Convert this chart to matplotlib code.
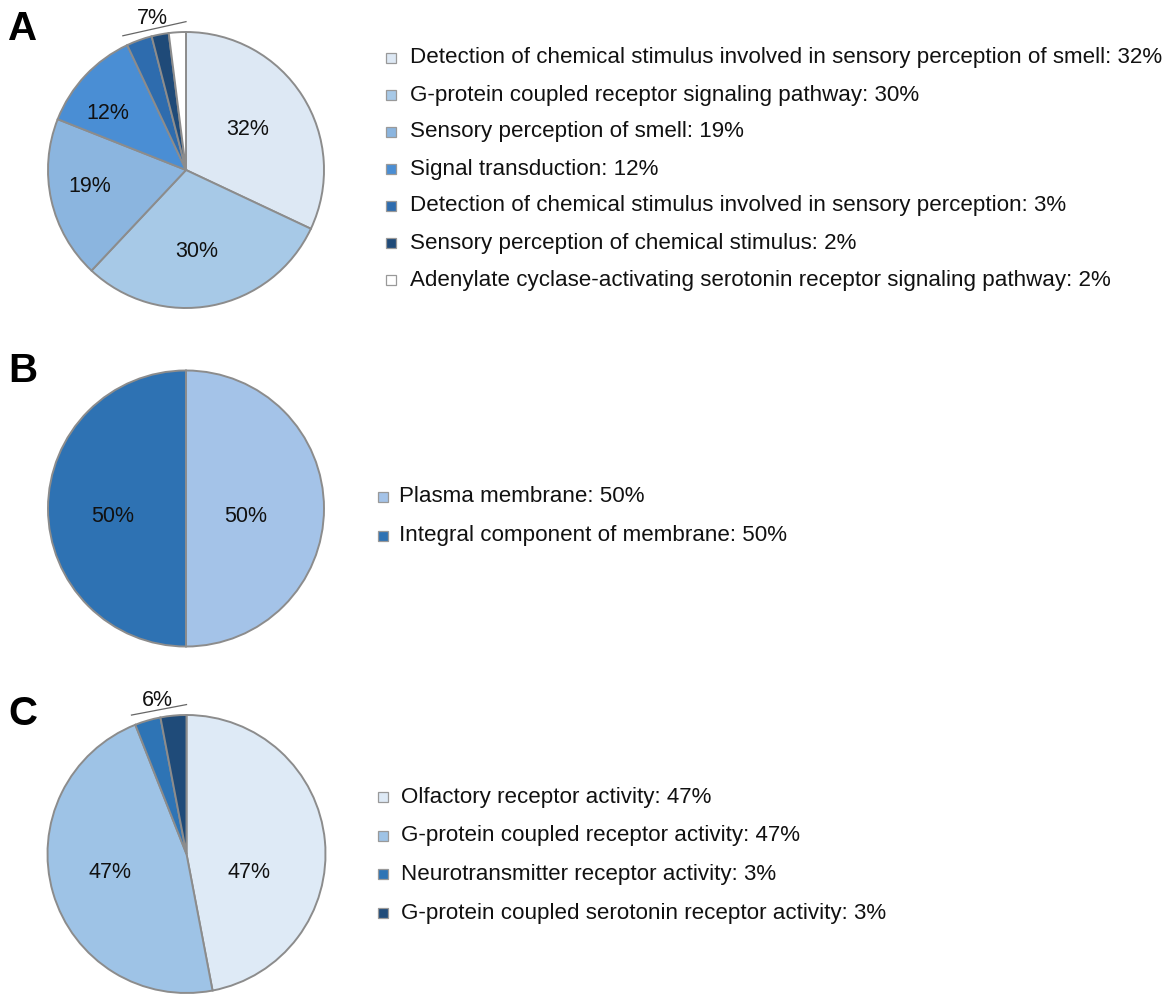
import numpy as np
import matplotlib
matplotlib.use("Agg")
import matplotlib.pyplot as plt
from matplotlib.lines import Line2D

plt.rcParams['font.family'] = ['Liberation Sans', 'DejaVu Sans']

# ---------------- data ----------------
a_labels = ["Detection of chemical stimulus involved in sensory perception of smell",
            "G-protein coupled receptor signaling pathway",
            "Sensory perception of smell",
            "Signal transduction",
            "Detection of chemical stimulus involved in sensory perception",
            "Sensory perception of chemical stimulus",
            "Adenylate cyclase-activating serotonin receptor signaling pathway"]
a_values = [32, 30, 19, 12, 3, 2, 2]
a_colors = ["#dde8f4", "#a7c9e7", "#8bb5df", "#4a8ed4", "#2e6cae", "#1f4a78", "#ffffff"]

b_labels = ["Plasma membrane", "Integral component of membrane"]
b_values = [50, 50]
b_colors = ["#a4c3e8", "#2e72b3"]

c_labels = ["Olfactory receptor activity",
            "G-protein coupled receptor activity",
            "Neurotransmitter receptor activity",
            "G-protein coupled serotonin receptor activity"]
c_values = [47, 47, 3, 3]
c_colors = ["#deeaf6", "#9ec3e6", "#2e74b5", "#1f4b79"]

W, H = 1176, 998
fig = plt.figure(figsize=(W / 100, H / 100), dpi=100)

EDGE = "#8c8c8c"
LBL_FS = 15.5


def fx(px):
    return px / W


def fy(py):
    return 1 - py / H


def draw_pie(cx, cy, r, values, colors, label_xy, n_small, small_text):
    ax = fig.add_axes([fx(cx - r), fy(cy + r), fx(2 * r), 2 * r / H])
    wedges, _ = ax.pie(values, colors=colors, startangle=90, counterclock=False,
                       radius=1.0,
                       wedgeprops=dict(edgecolor=EDGE, linewidth=1.4))
    ax.set_xlim(-1, 1)
    ax.set_ylim(-1, 1)
    ax.set_aspect('equal')
    ax.axis('off')
    for v, pos in zip(values, label_xy):
        if pos is None:
            continue
        ax.text(pos[0], pos[1], f"{v}%", ha='center',
                va='center', fontsize=LBL_FS, color='#111111')
    if n_small:
        t_lo = wedges[-1].theta1
        t_hi = wedges[-n_small].theta2
        rr = 1.075
        ax.plot([rr * np.cos(np.deg2rad(t_hi)), rr * np.cos(np.deg2rad(t_lo))],
                [rr * np.sin(np.deg2rad(t_hi)), rr * np.sin(np.deg2rad(t_lo))],
                color='#666666', lw=0.9, clip_on=False)
        tm = np.deg2rad((t_lo + t_hi) / 2)
        ax.text(1.125 * np.cos(tm), 1.125 * np.sin(tm), small_text, ha='center',
                va='center', fontsize=LBL_FS, color='#111111', clip_on=False)
    return ax


draw_pie(186, 170, 138, a_values, a_colors,
         [(0.45, 0.29), (0.08, -0.59), (-0.70, -0.12), (-0.57, 0.41),
          None, None, None], 3, f"{sum(a_values[4:])}%")
draw_pie(186, 508.5, 138, b_values, b_colors,
         [(0.43, -0.06), (-0.53, -0.06)], 0, "")
draw_pie(186.5, 854, 139, c_values, c_colors,
         [(0.45, -0.13), (-0.55, -0.13), None, None], 2,
         f"{sum(c_values[2:])}%")

# panel letters
for letter, y in [("A", 29), ("B", 371), ("C", 714)]:
    fig.text(fx(8), fy(y), letter, fontsize=29, fontweight='bold',
             ha='left', va='center')


def legend(x_mark, x_text, y0, dy, labels, values, colors):
    for i, (lab, v, c) in enumerate(zip(labels, values, colors)):
        y = y0 + i * dy
        fig.add_artist(Line2D([fx(x_mark)], [fy(y)], marker='s', markersize=6.5,
                              markerfacecolor=c, markeredgecolor='#999999',
                              markeredgewidth=0.9, linestyle='none'))
        fig.text(fx(x_text), fy(y), f"{lab}: {v}%", fontsize=16.1,
                 ha='left', va='center', color='#111111')


legend(391, 410, 58, 37.0, a_labels, a_values, a_colors)
legend(383, 399, 497, 38.5, b_labels, b_values, b_colors)
legend(383, 401, 797, 38.7, c_labels, c_values, c_colors)

fig.savefig("out.png", dpi=100, facecolor='white')
